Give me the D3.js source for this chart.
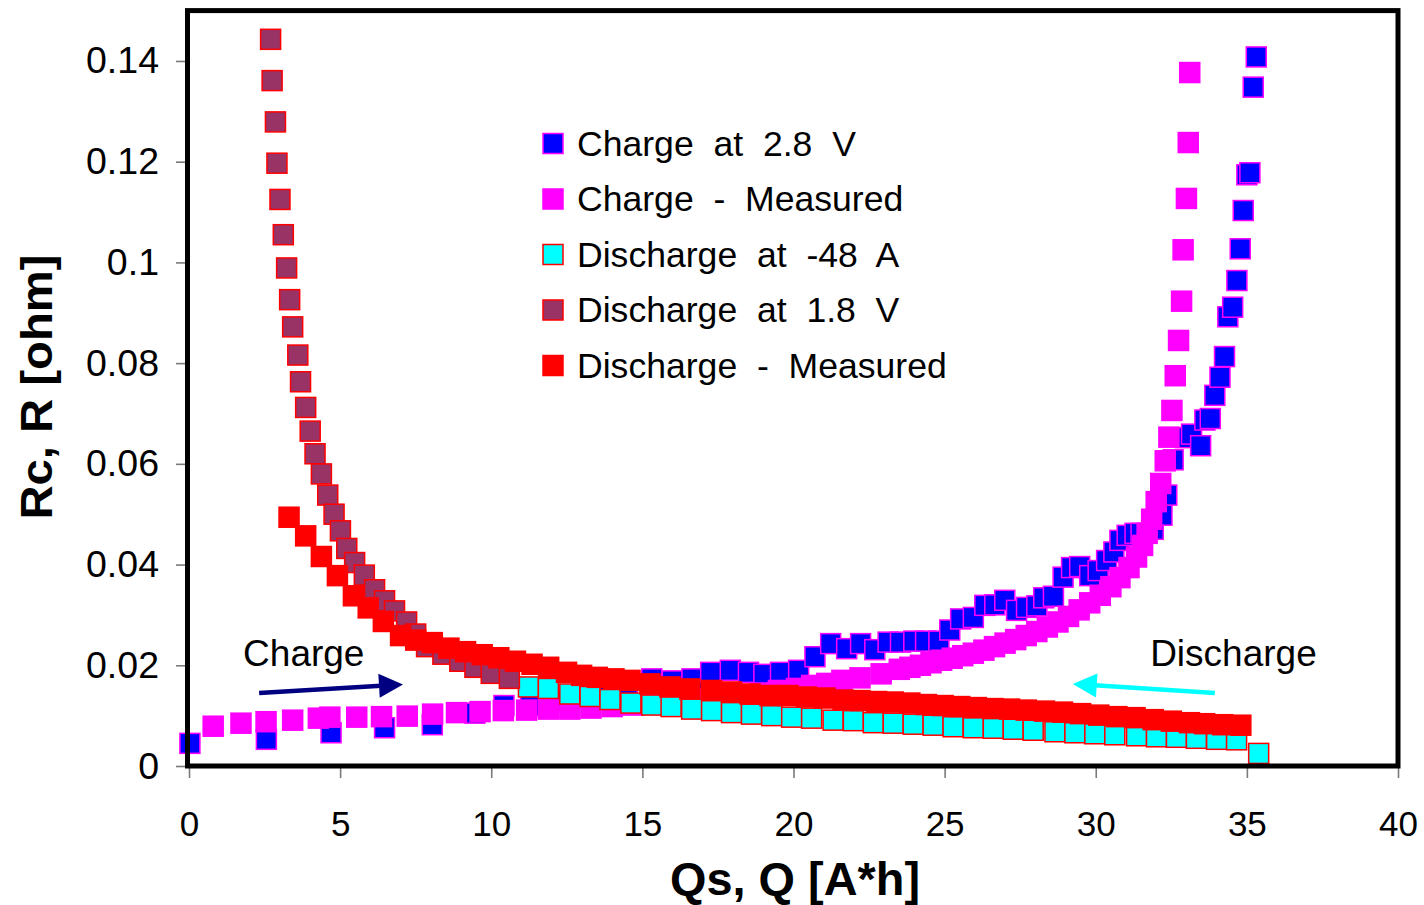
<!DOCTYPE html>
<html>
<head>
<meta charset="utf-8">
<script src="https://cdn.jsdelivr.net/npm/d3@7"></script>
<style>
  body { margin: 0; background: #fff; }
  svg { display: block; }
  text { font-family: "Liberation Sans", Arial, Helvetica, sans-serif; fill: #000; }
</style>
</head>
<body>
<svg id="chart" width="1424" height="905"></svg>
<script>
// Axis ticks
const xTicks = [0, 5, 10, 15, 20, 25, 30, 35, 40];
const yTicks = [0, 0.02, 0.04, 0.06, 0.08, 0.1, 0.12, 0.14];
const yTickLabels = ["0", "0.02", "0.04", "0.06", "0.08", "0.1", "0.12", "0.14"];

// Series names (legend order = drawing order)
const seriesNames = [
  "Charge  at  2.8  V",
  "Charge  -  Measured",
  "Discharge  at  -48  A",
  "Discharge  at  1.8  V",
  "Discharge  -  Measured"
];

// Charge at 2.8 V : Qs [A*h], Rc [ohm]
const chargeVoltQ = [0.03, 2.56, 4.70, 6.47, 8.05, 9.46, 10.42, 11.30, 12.10, 12.90, 13.70, 14.50,
  15.31, 15.99, 16.64, 17.26, 17.91, 18.51, 19.02, 19.57, 20.17, 20.71, 21.23, 21.76, 22.22, 22.69,
  23.13, 23.54, 23.98, 24.37, 24.81, 25.17, 25.53, 25.95, 26.33, 26.66, 26.99, 27.38, 27.71, 28.05,
  28.28, 28.60, 28.92, 29.20, 29.47, 29.80, 30.08, 30.36, 30.60, 30.80, 31.04, 31.30, 31.50, 31.90,
  32.19, 32.35, 32.56, 32.97, 33.17, 33.47, 33.61, 33.79, 33.94, 34.11, 34.26, 34.37, 34.53, 34.67,
  34.78, 34.88, 35.00, 35.10, 35.21, 35.31];
const chargeVoltR = [0.0045, 0.0053, 0.0066, 0.0076, 0.0082, 0.0105, 0.0120, 0.0120, 0.0130, 0.0140, 0.0151, 0.0162,
  0.0173, 0.0169, 0.0173, 0.0186, 0.0190, 0.0186, 0.0182, 0.0186, 0.0190, 0.0217, 0.0243, 0.0233, 0.0243, 0.0231,
  0.0246, 0.0246, 0.0248, 0.0248, 0.0248, 0.0270, 0.0292, 0.0295, 0.0319, 0.0320, 0.0329, 0.0309, 0.0315, 0.0318,
  0.0334, 0.0337, 0.0375, 0.0394, 0.0396, 0.0378, 0.0388, 0.0408, 0.0425, 0.0448, 0.0458, 0.0462, 0.0462, 0.0470,
  0.0498, 0.0538, 0.0608, 0.0652, 0.0659, 0.0636, 0.0687, 0.0690, 0.0736, 0.0772, 0.0813, 0.0892, 0.0911, 0.0964,
  0.1027, 0.1103, 0.1174, 0.1178, 0.1348, 0.1408];

// Charge - Measured
const chargeMeasQ = [0.80, 1.72, 2.55, 3.43, 4.28, 4.66, 5.55, 6.37, 7.22, 8.06, 8.85, 9.63, 10.40, 11.17,
  11.89, 12.60, 13.30, 14.00, 14.70, 15.40, 16.10, 16.80, 17.50, 18.20, 18.90, 19.50, 20.10, 20.60, 21.10,
  21.60, 22.20, 22.90, 23.50, 23.85, 24.20, 24.55, 24.90, 25.25, 25.60, 25.95, 26.30, 26.65, 27.00, 27.35,
  27.70, 28.05, 28.40, 28.75, 29.10, 29.45, 29.80, 30.15, 30.50, 30.80, 31.10, 31.35, 31.55, 31.70, 31.85,
  32.00, 32.15, 32.30, 32.42, 32.52, 32.63, 32.74, 32.84, 32.89, 33.00, 33.06, 33.11];
const chargeMeasR = [0.0079, 0.0085, 0.0088, 0.0091, 0.0095, 0.0097, 0.0097, 0.0098, 0.0099, 0.0103, 0.0106, 0.0108, 0.0110, 0.0111,
  0.0113, 0.0113, 0.0115, 0.0118, 0.0121, 0.0124, 0.0128, 0.0132, 0.0136, 0.0140, 0.0145, 0.0150, 0.0154, 0.0160, 0.0164,
  0.0170, 0.0175, 0.0183, 0.0192, 0.0196, 0.0200, 0.0205, 0.0210, 0.0214, 0.0219, 0.0224, 0.0230, 0.0237, 0.0244, 0.0251,
  0.0259, 0.0267, 0.0276, 0.0286, 0.0297, 0.0310, 0.0324, 0.0339, 0.0356, 0.0374, 0.0394, 0.0415, 0.0438, 0.0462, 0.0490,
  0.0525, 0.0561, 0.0606, 0.0653, 0.0706, 0.0775, 0.0845, 0.0923, 0.1025, 0.1127, 0.1238, 0.1377];

// Discharge at -48 A
const dischargeAmpQ = [11.23, 11.89, 12.60, 13.27, 13.93, 14.62, 15.31, 15.95, 16.63, 17.29, 17.95, 18.61,
  19.28, 19.94, 20.60, 21.31, 21.98, 22.64, 23.30, 23.96, 24.62, 25.28, 25.95, 26.61, 27.27, 27.93, 28.65,
  29.31, 29.97, 30.63, 31.35, 32.01, 32.67, 33.33, 34.00, 34.66, 35.39];
const dischargeAmpR = [0.0157, 0.0154, 0.0143, 0.0138, 0.0132, 0.0125, 0.0121, 0.0118, 0.0113, 0.0110, 0.0106, 0.0103,
  0.0100, 0.0097, 0.0095, 0.0091, 0.0090, 0.0086, 0.0085, 0.0083, 0.0081, 0.0078, 0.0076, 0.0075, 0.0073, 0.0071, 0.0068,
  0.0066, 0.0064, 0.0062, 0.0060, 0.0058, 0.0057, 0.0055, 0.0053, 0.0052, 0.0025];

// Discharge at 1.8 V
const dischargeVoltQ = [2.70, 2.75, 2.86, 2.91, 3.01, 3.12, 3.23, 3.33, 3.43, 3.60, 3.69, 3.86, 4.01, 4.17,
  4.38, 4.59, 4.80, 5.01, 5.22, 5.48, 5.80, 6.14, 6.47, 6.80, 7.20, 7.50, 7.86, 8.40, 8.96, 9.46, 10.00, 10.60];
const dischargeVoltR = [0.1443, 0.1361, 0.1279, 0.1197, 0.1125, 0.1055, 0.0989, 0.0926, 0.0872, 0.0816, 0.0763, 0.0712, 0.0665, 0.0620,
  0.0580, 0.0538, 0.0500, 0.0467, 0.0432, 0.0404, 0.0379, 0.0350, 0.0328, 0.0308, 0.0286, 0.0262, 0.0237, 0.0222, 0.0208, 0.0196, 0.0184, 0.0174];

// Discharge - Measured
const dischargeMeasQ = [3.31, 3.86, 4.38, 4.91, 5.44, 5.93, 6.43, 7.00, 7.50, 8.05, 8.60, 9.15, 9.70, 10.25,
  10.80, 11.35, 11.90, 12.49, 12.99, 13.51, 14.06, 14.59, 15.25, 15.91, 16.57, 17.29, 17.95, 18.56, 19.22,
  19.82, 20.43, 21.04, 21.64, 22.20, 22.75, 23.30, 23.85, 24.40, 24.95, 25.50, 26.05, 26.60, 27.15, 27.70,
  28.30, 28.90, 29.50, 30.10, 30.70, 31.30, 31.90, 32.50, 33.10, 33.60, 34.20, 34.80];
const dischargeMeasR = [0.0494, 0.0457, 0.0416, 0.0378, 0.0338, 0.0314, 0.0287, 0.0259, 0.0250, 0.0245, 0.0234, 0.0227, 0.0221, 0.0215,
  0.0208, 0.0202, 0.0196, 0.0186, 0.0180, 0.0176, 0.0173, 0.0170, 0.0163, 0.0157, 0.0153, 0.0150, 0.0147, 0.0143, 0.0140,
  0.0140, 0.0137, 0.0135, 0.0131, 0.0130, 0.0128, 0.0127, 0.0125, 0.0122, 0.0120, 0.0118, 0.0116, 0.0114, 0.0113, 0.0111,
  0.0109, 0.0107, 0.0104, 0.0101, 0.0098, 0.0096, 0.0092, 0.0089, 0.0086, 0.0084, 0.0082, 0.0081];

// Marker styles per series
const fills   = ["#0000FF", "#FF00FF", "#00FFFF", "#993366", "#FF0000"];
const strokes = ["#FF00FF", "#FF00FF", "#FF0000", "#FF0000", "#FF0000"];

// Direction arrows (data units): [fromQ, fromR, toQ, toR]
const chargeArrow = [2.32, 0.0145, 7.08, 0.0162];
const dischargeArrow = [33.94, 0.0145, 29.24, 0.0163];

const series = [
  { q: chargeVoltQ, r: chargeVoltR },
  { q: chargeMeasQ, r: chargeMeasR },
  { q: dischargeAmpQ, r: dischargeAmpR },
  { q: dischargeVoltQ, r: dischargeVoltR },
  { q: dischargeMeasQ, r: dischargeMeasR }
].map((s, i) => ({
  name: seriesNames[i], fill: fills[i], stroke: strokes[i],
  points: s.q.map((q, j) => ({ q, r: s.r[j] }))
}));

const svg = d3.select("#chart");
const plotLeft = 189, plotRight = 1398, plotTop = 10.6, plotBottom = 766;

const x = d3.scaleLinear().domain([0, 40]).range([plotLeft, plotRight]);
const y = d3.scaleLinear().domain([0, 0.15]).range([plotBottom, plotTop]);

// Axes with outward grey ticks
const xAxis = svg.append("g")
  .attr("transform", `translate(0,${plotBottom})`)
  .call(d3.axisBottom(x).tickValues(xTicks).tickSize(12).tickPadding(33).tickFormat(d3.format("d")));
xAxis.select(".domain").remove();
xAxis.selectAll(".tick line").attr("stroke", "#7a7a7a").attr("stroke-width", 1.6);
xAxis.selectAll(".tick text")
  .attr("font-size", 35)
  .attr("font-family", "Liberation Sans, Arial, sans-serif")
  .attr("fill", "#000");

const yAxis = svg.append("g")
  .attr("transform", `translate(${plotLeft},0)`)
  .call(d3.axisLeft(y).tickValues(yTicks).tickSize(13).tickPadding(17)
    .tickFormat((d, i) => yTickLabels[i]));
yAxis.select(".domain").remove();
yAxis.selectAll(".tick line").attr("stroke", "#7a7a7a").attr("stroke-width", 1.6);
yAxis.selectAll(".tick text")
  .attr("font-size", 37.5)
  .attr("font-family", "Liberation Sans, Arial, sans-serif")
  .attr("fill", "#000");

// Markers
const size = 20;
const plot = svg.append("g");
series.forEach(s => {
  plot.append("g").selectAll("rect")
    .data(s.points)
    .join("rect")
    .attr("x", d => x(d.q) - size / 2)
    .attr("y", d => y(d.r) - size / 2)
    .attr("width", size)
    .attr("height", size)
    .attr("fill", s.fill)
    .attr("stroke", s.stroke)
    .attr("stroke-width", 1.5);
});

// Plot frame
svg.append("rect")
  .attr("x", plotLeft - 1.5).attr("y", plotTop)
  .attr("width", plotRight - plotLeft + 1.5).attr("height", plotBottom - plotTop)
  .attr("fill", "none").attr("stroke", "#000").attr("stroke-width", 5);

// Legend
const legend = svg.append("g").attr("transform", "translate(543,144)");
series.forEach((s, i) => {
  const row = legend.append("g").attr("transform", `translate(0,${i * 55.5})`);
  row.append("rect")
    .attr("x", 0).attr("y", -10.5).attr("width", 20).attr("height", 20)
    .attr("fill", s.fill).attr("stroke", s.stroke).attr("stroke-width", 1.5);
  row.append("text")
    .attr("x", 34).attr("y", 11.5)
    .attr("font-size", 35.6)
    .style("white-space", "pre")
    .text(s.name);
});

// Direction arrows
function arrow(a, color) {
  const x0 = x(a[0]), y0 = y(a[1]), x1 = x(a[2]), y1 = y(a[3]);
  const ang = Math.atan2(y1 - y0, x1 - x0);
  const headLen = 24, headHalf = 12;
  const bx = x1 - headLen * Math.cos(ang), by = y1 - headLen * Math.sin(ang);
  svg.append("line")
    .attr("x1", x0).attr("y1", y0).attr("x2", bx + 2 * Math.cos(ang)).attr("y2", by + 2 * Math.sin(ang))
    .attr("stroke", color).attr("stroke-width", 4.5);
  const nx = -Math.sin(ang), ny = Math.cos(ang);
  svg.append("polygon")
    .attr("points", [[x1, y1], [bx + nx * headHalf, by + ny * headHalf], [bx - nx * headHalf, by - ny * headHalf]]
      .map(p => p.join(",")).join(" "))
    .attr("fill", color);
}
arrow(chargeArrow, "#000080");
arrow(dischargeArrow, "#00FFFF");

svg.append("text")
  .attr("x", x(1.79)).attr("y", y(0.0199))
  .attr("font-size", 37)
  .text("Charge");
svg.append("text")
  .attr("x", x(31.8)).attr("y", y(0.0199))
  .attr("font-size", 37)
  .text("Discharge");

// Axis titles
svg.append("text")
  .attr("x", 795).attr("y", 895)
  .attr("text-anchor", "middle")
  .attr("font-size", 46).attr("font-weight", "bold")
  .attr("textLength", 250).attr("lengthAdjust", "spacingAndGlyphs")
  .text("Qs, Q [A*h]");
svg.append("text")
  .attr("transform", "translate(52,387) rotate(-90)")
  .attr("text-anchor", "middle")
  .attr("font-size", 44).attr("font-weight", "bold")
  .attr("textLength", 265).attr("lengthAdjust", "spacingAndGlyphs")
  .text("Rc, R [ohm]");
</script>
</body>
</html>
